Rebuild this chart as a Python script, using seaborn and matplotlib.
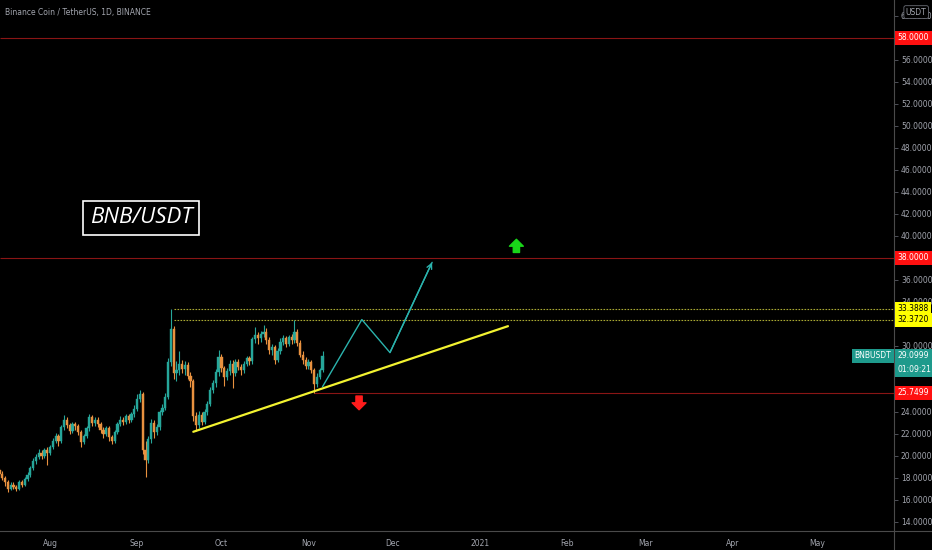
import numpy as np
import pandas as pd
import matplotlib.pyplot as plt
import matplotlib.dates as mdates
import matplotlib.transforms as mtransforms
from matplotlib.lines import Line2D
from matplotlib.ticker import FormatStrFormatter
import seaborn as sns

# daily candles BNB/USDT, starting 2020-07-14
start_date = "2020-07-14"
opens = [18.7, 18.4, 18.0, 17.6, 17.0, 17.4, 17.2, 17.0, 17.6, 17.4,
         17.9, 18.3, 18.9, 19.5, 19.9, 20.3, 20.0, 20.5, 20.3, 20.8,
         21.4, 21.8, 21.4, 22.6, 23.3, 22.8, 22.3, 22.9, 22.7, 22.2,
         21.3, 21.8, 22.5, 23.5, 23.0, 23.3, 22.9, 22.4, 22.0, 22.5,
         21.7, 21.4, 22.2, 22.9, 23.3, 23.1, 23.6, 23.3, 23.8, 24.3,
         25.2, 25.6, 20.5, 19.6, 21.5, 23.0, 22.2, 22.6, 24.0, 24.4,
         25.4, 28.5, 31.5, 27.5, 27.8, 28.4, 27.9, 28.3, 27.3, 26.8,
         23.6, 22.8, 23.7, 23.1, 24.0, 24.7, 26.0, 26.6, 27.6, 29.0,
         28.0, 27.2, 27.7, 28.4, 27.5, 28.5, 28.1, 27.8, 28.4, 28.9,
         28.6, 30.6, 31.0, 30.7, 31.1, 31.3, 30.5, 29.6, 29.9, 28.7,
         29.5, 30.4, 30.7, 30.2, 30.8, 30.5, 31.3, 30.3, 29.2, 28.7,
         28.2, 28.5, 27.8, 26.5, 27.2, 27.8]
highs = [18.9, 18.6, 18.2, 17.8, 17.6, 17.6, 17.4, 17.8, 17.8, 18.1,
         18.5, 19.1, 19.8, 20.2, 20.6, 20.5, 20.7, 20.8, 21.0, 21.6,
         22.1, 22.0, 22.8, 23.7, 23.5, 23.0, 23.1, 23.1, 22.9, 22.4,
         22.0, 22.7, 23.8, 23.7, 23.5, 23.5, 23.1, 22.6, 22.7, 22.7,
         21.9, 22.4, 23.1, 23.6, 23.5, 23.8, 23.8, 24.0, 24.6, 25.6,
         26.0, 25.8, 21.4, 21.8, 23.4, 23.3, 22.9, 24.2, 24.7, 25.7,
         28.9, 33.39, 31.8, 28.6, 29.5, 28.7, 28.6, 28.5, 27.6, 27.0,
         24.0, 24.1, 24.0, 24.3, 25.0, 26.3, 26.9, 27.9, 29.6, 29.3,
         28.2, 28.0, 28.7, 28.7, 28.8, 28.8, 28.4, 28.6, 29.1, 29.1,
         30.8, 31.7, 31.3, 31.4, 31.9, 31.6, 30.8, 30.2, 30.1, 29.8,
         30.7, 31.0, 30.9, 31.0, 31.1, 32.37, 31.5, 30.5, 29.5, 29.0,
         28.8, 28.7, 28.0, 27.5, 28.0, 29.5]
lows = [18.2, 17.8, 17.3, 16.7, 16.9, 17.0, 16.8, 16.9, 17.2, 17.3,
        17.7, 18.1, 18.7, 19.3, 19.7, 19.7, 19.8, 19.2, 20.1, 20.6,
        21.2, 20.9, 21.2, 22.4, 22.5, 22.0, 22.1, 22.4, 21.9, 20.8,
        21.1, 21.6, 22.3, 22.7, 22.7, 22.6, 22.1, 21.6, 21.8, 21.4,
        21.1, 21.2, 22.0, 22.7, 22.8, 22.9, 23.0, 23.1, 23.5, 24.1,
        24.9, 20.2, 18.1, 19.4, 21.2, 21.6, 21.9, 22.4, 23.7, 24.2,
        25.2, 28.2, 27.0, 26.8, 27.4, 27.5, 27.4, 27.0, 26.3, 23.2,
        22.3, 22.5, 22.8, 22.9, 23.7, 24.5, 25.7, 26.3, 27.3, 27.6,
        26.4, 26.9, 27.4, 26.2, 27.3, 27.8, 27.4, 27.5, 28.2, 28.3,
        28.4, 30.3, 30.2, 30.4, 30.8, 30.2, 29.3, 29.2, 28.4, 28.5,
        29.3, 30.1, 29.9, 30.0, 30.2, 30.3, 30.0, 29.0, 28.4, 27.9,
        27.9, 27.5, 25.75, 26.3, 27.0, 27.6]
closes = [18.4, 18.0, 17.6, 17.0, 17.4, 17.2, 17.0, 17.6, 17.4, 17.9,
          18.3, 18.9, 19.5, 19.9, 20.3, 20.0, 20.5, 20.3, 20.8, 21.4,
          21.8, 21.4, 22.6, 23.3, 22.8, 22.3, 22.9, 22.7, 22.2, 21.3,
          21.8, 22.5, 23.5, 23.0, 23.3, 22.9, 22.4, 22.0, 22.5, 21.7,
          21.4, 22.2, 22.9, 23.3, 23.1, 23.6, 23.3, 23.8, 24.3, 25.2,
          25.6, 20.5, 19.6, 21.5, 23.0, 22.2, 22.6, 24.0, 24.4, 25.4,
          28.5, 31.5, 27.5, 27.8, 28.4, 27.9, 28.3, 27.3, 26.8, 23.6,
          22.8, 23.7, 23.1, 24.0, 24.7, 26.0, 26.6, 27.6, 29.0, 28.0,
          27.2, 27.7, 28.4, 27.5, 28.5, 28.1, 27.8, 28.4, 28.9, 28.6,
          30.6, 31.0, 30.7, 31.1, 31.3, 30.5, 29.6, 29.9, 28.7, 29.5,
          30.4, 30.7, 30.2, 30.8, 30.5, 31.3, 30.3, 29.2, 28.7, 28.2,
          28.5, 27.8, 26.5, 27.2, 27.8, 29.1]

# drawings
trend_dates = ["2020-09-21", "2021-01-11"]
trend_prices = [22.2, 31.8]
path_dates = ["2020-11-06", "2020-11-20", "2020-11-30", "2020-12-15"]
path_prices = [26.3, 32.4, 29.4, 37.6]
red_levels = [58.0, 38.0]
support_level = 25.7499
support_start = "2020-11-03"
yellow_levels = [33.3888, 32.3720]
yellow_start = "2020-09-14"
last_price = 29.0999
countdown = "01:09:21"
up_arrow = ("2021-01-14", 38.5, 39.7)
down_arrow = ("2020-11-19", 25.45, 24.2)

# price scale labels (the ones hidden behind tags are left out)
price_ticks = [14, 16, 18, 20, 22, 24, 30, 34, 36, 40, 42, 44, 46, 48, 50, 52, 54, 56, 60]
month_ticks = ["2020-08-01", "2020-09-01", "2020-10-01", "2020-11-01", "2020-12-01",
               "2021-01-01", "2021-02-01", "2021-03-01", "2021-04-01", "2021-05-01"]
month_labels = ["Aug", "Sep", "Oct", "Nov", "Dec", "2021", "Feb", "Mar", "Apr", "May"]

UP = "#26a69a"
DOWN = "#e8913f"
GRAY = "#a3a6af"

sns.set_theme(style="dark", rc={"axes.facecolor": "black", "figure.facecolor": "black",
                                "axes.edgecolor": "#4a4a4a", "axes.grid": False})
plt.rcParams["font.family"] = ["DejaVu Sans"]

fig = plt.figure(figsize=(9.32, 5.5), dpi=100)
ax = fig.add_axes([0, 19 / 550, 894 / 932, 531 / 550])

dates = mdates.date2num(pd.date_range(start_date, periods=len(closes)))
o = np.array(opens)
c = np.array(closes)
colors = [UP if cc >= oo else DOWN for oo, cc in zip(o, c)]
ax.vlines(dates, lows, highs, colors=colors, lw=0.8, zorder=2)
ax.bar(dates, np.maximum(np.abs(c - o), 0.08), bottom=np.minimum(o, c),
       width=0.8, color=colors, edgecolor=colors, linewidth=0.3, zorder=3)

def d(s):
    return mdates.date2num(pd.Timestamp(s))

x_left = d("2020-08-01") - 17.8
x_right = d("2020-08-01") + 300.4

# horizontal levels
for lv in red_levels:
    ax.hlines(lv, x_left, x_right, color="#8a1515", lw=0.8, zorder=1)
ax.hlines(support_level, d(support_start), x_right, color="#8a1515", lw=0.8, zorder=1)
for lv in yellow_levels:
    ax.hlines(lv, d(yellow_start), x_right, color="#a8a832", lw=0.8,
              linestyles=(0, (1.5, 1.2)), zorder=1)

# trend line and projection
sns.lineplot(x=[d(s) for s in trend_dates], y=trend_prices, ax=ax,
             color="#f2f230", lw=1.6, zorder=4)
sns.lineplot(x=[d(s) for s in path_dates], y=path_prices, ax=ax, sort=False,
             color="#2bb3ad", lw=1.0, zorder=4)
ax.annotate("", xy=(d(path_dates[-1]), path_prices[-1]),
            xytext=(d(path_dates[-2]), path_prices[-2]),
            arrowprops=dict(arrowstyle="->", color="#2bb3ad", lw=1.0,
                            mutation_scale=9, shrinkA=0, shrinkB=0), zorder=4)

# green / red arrows
for (ds, y0, y1), col in [(up_arrow, "#19d619"), (down_arrow, "#ff1c1c")]:
    ax.annotate("", xy=(d(ds), y1), xytext=(d(ds), y0),
                arrowprops=dict(arrowstyle="simple,head_length=0.5,head_width=1.0,tail_width=0.45",
                                color=col, shrinkA=0, shrinkB=0, mutation_scale=10), zorder=5)

ax.set_xlim(x_left, x_right)
ax.set_ylim(13.18, 61.45)

# axes styling
for side in ["left", "top"]:
    ax.spines[side].set_visible(False)
for side in ["right", "bottom"]:
    ax.spines[side].set_color("#4a4a4a")
    ax.spines[side].set_linewidth(0.8)

ax.yaxis.tick_right()
ax.set_yticks(price_ticks)
ax.yaxis.set_major_formatter(FormatStrFormatter("%.4f"))
ax.tick_params(axis="y", colors="#5a5d66", labelcolor=GRAY, labelsize=5.5,
               length=3, width=0.6, pad=2, direction="out")
ax.set_xticks([d(s) for s in month_ticks])
ax.set_xticklabels(month_labels)
ax.tick_params(axis="x", colors="#5a5d66", labelcolor=GRAY, labelsize=5.5,
               length=3, width=0.6, pad=3, direction="out")
ax.set_xlabel("")
ax.set_ylabel("")

# extend separators to the figure edges
fig.add_artist(Line2D([894 / 932, 894 / 932], [0, 19 / 550], color="#4a4a4a", lw=0.8))
fig.add_artist(Line2D([894 / 932, 1], [19 / 550, 19 / 550], color="#4a4a4a", lw=0.8))

# price tags on the scale
trans = mtransforms.blended_transform_factory(ax.transAxes, ax.transData)

def tag(y, text, fc, tc, x=1.004, ha="left"):
    ax.text(x, y, text, transform=trans, ha=ha, va="center", fontsize=5.5, color=tc,
            bbox=dict(boxstyle="square,pad=0.35", fc=fc, ec="none"), clip_on=False, zorder=6)

for lv in red_levels + [support_level]:
    tag(lv, f"{lv:.4f}", "#ff1010", "white")
for lv in yellow_levels:
    tag(lv, f"{lv:.4f}", "#ffff00", "black")
tag(last_price, f"{last_price:.4f}", "#1e9a8c", "white")
tag(last_price, "BNBUSDT", "#1e9a8c", "white", x=0.997, ha="right")
tag(last_price - 1.25, countdown, "#1e9a8c", "white")

fig.text(0.983, 0.978, "USDT", fontsize=5.5, color=GRAY, ha="center", va="center",
         bbox=dict(boxstyle="round,pad=0.25", fc="black", ec="#6a6d76", lw=0.6))

fig.text(0.005, 0.978, "Binance Coin / TetherUS, 1D, BINANCE", fontsize=5.5,
         color=GRAY, ha="left", va="center")

ax.text(0.158, 0.590, "BNB/USDT", transform=ax.transAxes, fontsize=16, style="italic",
        family=["Open Sans", "DejaVu Sans"], color="white", ha="center", va="center",
        bbox=dict(boxstyle="square,pad=0.3", fc="black", ec="white", lw=1.2), zorder=6)

fig.savefig("out.png", dpi=100, facecolor="black")
